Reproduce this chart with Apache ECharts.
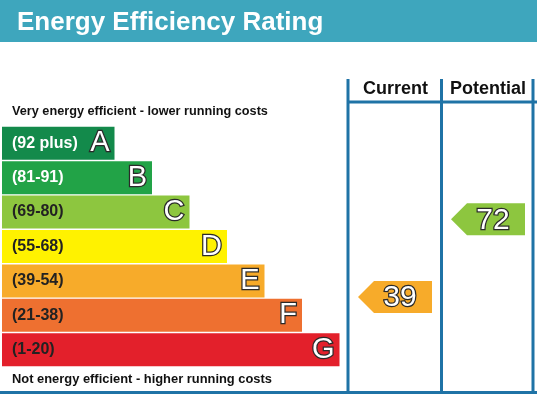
<!DOCTYPE html>
<html><head><meta charset="utf-8">
<script src="https://cdn.jsdelivr.net/npm/echarts@6/dist/echarts.min.js"></script>
<style>html,body{margin:0;padding:0;background:#fff}#c{width:537px;height:394px}</style>
</head><body><div id="c"></div>
<script>
// ---- data ----
const bandLetters = ['A','B','C','D','E','F','G'];
const bandRanges = ['(92 plus)','(81-91)','(69-80)','(55-68)','(39-54)','(21-38)','(1-20)'];
const bandLow = [92,81,69,55,39,21,1];
const bandHigh = [100,91,80,68,54,38,20];
const bandLength = [3,4,5,6,7,8,9];
const ratingColumns = ['Current','Potential'];
const ratingValues = [39,72];
const topNote = 'Very energy efficient - lower running costs';
const bottomNote = 'Not energy efficient - higher running costs';
const chartTitle = 'Energy Efficiency Rating';

// ---- styles ----
const bandColors = ['#138a4b','#22a347','#8dc63f','#fff200','#f7ab2a','#ee7030','#e3202b'];
const rangeTextColors = ['#fff','#fff','#222','#222','#222','#222','#222'];
const lineColor = '#1f73a6';
const FONT = '"Liberation Sans", Arial, sans-serif';

function bandIndexOf(r){ for(let i=0;i<bandLow.length;i++){ if(r>=bandLow[i]) return i; } return bandLow.length-1; }
function bandPos(r){ const i=bandIndexOf(r); return i + (bandHigh[i]-r+0.5)/(bandHigh[i]-bandLow[i]+1); }

const chart = echarts.init(document.getElementById('c'), null, {renderer:'canvas'});
chart.setOption({
  animation:false,
  title:{text:chartTitle,left:12,top:5,z:10,textStyle:{color:'#fff',fontSize:26,fontWeight:'bold',fontFamily:FONT}},
  grid:[
    {left:2,top:126,width:337.5,height:241},
    {left:347,top:126,width:186,height:241}
  ],
  xAxis:[
    {gridIndex:0,type:'value',min:0,max:9,show:false},
    {gridIndex:1,type:'category',data:ratingColumns,show:false}
  ],
  yAxis:[
    {gridIndex:0,type:'category',data:bandLetters,inverse:true,show:false},
    {gridIndex:1,type:'value',min:0,max:7,inverse:true,show:false}
  ],
  graphic:[
    {type:'rect',z:0,shape:{x:0,y:0,width:537,height:42},style:{fill:'#3ea6bd'}},
    {type:'line',z:5,shape:{x1:348,y1:79,x2:348,y2:393},style:{stroke:lineColor,lineWidth:3}},
    {type:'line',z:5,shape:{x1:441.5,y1:79,x2:441.5,y2:393},style:{stroke:lineColor,lineWidth:3}},
    {type:'line',z:5,shape:{x1:533,y1:79,x2:533,y2:393},style:{stroke:lineColor,lineWidth:3}},
    {type:'line',z:5,shape:{x1:347,y1:102,x2:537,y2:102},style:{stroke:lineColor,lineWidth:3}},
    {type:'line',z:5,shape:{x1:0,y1:392.5,x2:537,y2:392.5},style:{stroke:lineColor,lineWidth:3}},
    {type:'text',z:5,x:395.5,y:89,style:{text:ratingColumns[0],fill:'#111',font:'bold 18px '+FONT,align:'center',verticalAlign:'middle'}},
    {type:'text',z:5,x:488,y:89,style:{text:ratingColumns[1],fill:'#111',font:'bold 18px '+FONT,align:'center',verticalAlign:'middle'}},
    {type:'text',z:5,x:12,y:111,style:{text:topNote,fill:'#111',font:'bold 12.7px '+FONT,align:'left',verticalAlign:'middle'}},
    {type:'text',z:5,x:12,y:379,style:{text:bottomNote,fill:'#111',font:'bold 12.9px '+FONT,align:'left',verticalAlign:'middle'}}
  ],
  series:[
    {type:'bar',xAxisIndex:0,yAxisIndex:0,barWidth:33,
     data:bandLength.map((v,i)=>({value:v,itemStyle:{color:bandColors[i]},label:{color:rangeTextColors[i]}})),
     label:{show:true,position:'insideLeft',distance:10,fontFamily:FONT,fontWeight:'bold',fontSize:16,
       formatter:p=>bandRanges[p.dataIndex]}},
    {type:'bar',xAxisIndex:0,yAxisIndex:0,barWidth:33,barGap:'-100%',
     data:bandLength.slice(),itemStyle:{color:'rgba(0,0,0,0)'},
     label:{show:true,position:'insideRight',distance:5,fontFamily:FONT,fontSize:29,color:'#fff',
       textBorderColor:'#2a2a2a',textBorderWidth:2.5,formatter:p=>bandLetters[p.dataIndex]}},
    {type:'custom',xAxisIndex:1,yAxisIndex:1,
     data:ratingValues.map((r,i)=>[i,bandPos(r),r,bandIndexOf(r)]),
     renderItem:function(params,api){
       const c=api.coord([api.value(0),api.value(1)]);
       const w=api.size([1,0])[0];
       const xl=c[0]-w/2, xr=c[0]+w/2, h=16;
       const tip=xl+11, sh=xl+27, right=xr-8;
       const bi=api.value(3);
       return {type:'group',children:[
         {type:'polygon',shape:{points:[[tip,c[1]],[sh,c[1]-h],[right,c[1]-h],[right,c[1]+h],[sh,c[1]+h]]},style:{fill:bandColors[bi]}},
         {type:'text',x:(tip+right)/2+5,y:c[1]+1,style:{text:String(api.value(2)),fill:'#fff',stroke:'#2a2a2a',lineWidth:2.5,
           font:'30px '+FONT,align:'center',verticalAlign:'middle'}}
       ]};
     }}
  ]
});
</script></body></html>
